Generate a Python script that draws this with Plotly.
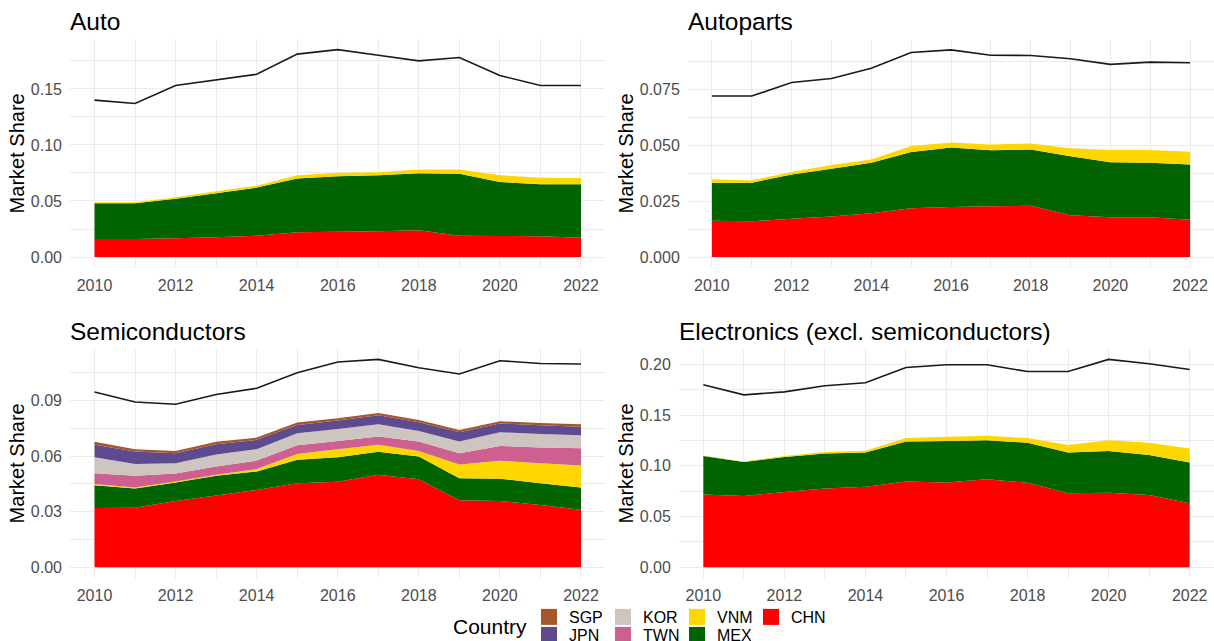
import plotly.graph_objects as go

W, H = 1214, 641

years = list(range(2010, 2023))

# ---------------- data (market shares) ----------------
auto_total = [0.140, 0.137, 0.153, 0.158, 0.163, 0.181, 0.185, 0.180, 0.175, 0.178, 0.162, 0.153, 0.153]
auto_chn = [0.0160, 0.0160, 0.0167, 0.0176, 0.0190, 0.0220, 0.0226, 0.0230, 0.0240, 0.0190, 0.0188, 0.0185, 0.0173]
auto_mex = [0.0320, 0.0320, 0.0353, 0.0394, 0.0430, 0.0480, 0.0494, 0.0500, 0.0507, 0.0554, 0.0482, 0.0465, 0.0477]
auto_vnm = [0.0008, 0.0008, 0.0013, 0.0016, 0.0017, 0.0029, 0.0033, 0.0026, 0.0033, 0.0036, 0.0060, 0.0058, 0.0055]

autoparts_total = [0.0721, 0.0721, 0.0782, 0.0800, 0.0846, 0.0916, 0.0928, 0.0904, 0.0903, 0.0888, 0.0863, 0.0873, 0.0870]
autoparts_chn = [0.0163, 0.0160, 0.0172, 0.0182, 0.0196, 0.0219, 0.0224, 0.0227, 0.0230, 0.0187, 0.0178, 0.0178, 0.0167]
autoparts_mex = [0.0170, 0.0173, 0.0198, 0.0214, 0.0226, 0.0251, 0.0267, 0.0251, 0.0252, 0.0265, 0.0247, 0.0244, 0.0248]
autoparts_vnm = [0.0015, 0.0010, 0.0011, 0.0016, 0.0015, 0.0027, 0.0022, 0.0026, 0.0027, 0.0035, 0.0054, 0.0057, 0.0057]

semi_total = [0.0946, 0.0892, 0.0880, 0.0933, 0.0966, 0.1050, 0.1108, 0.1122, 0.1077, 0.1043, 0.1115, 0.1100, 0.1097]
semi_chn = [0.0320, 0.0322, 0.0358, 0.0388, 0.0417, 0.0453, 0.0462, 0.0500, 0.0475, 0.0362, 0.0358, 0.0336, 0.0311]
semi_mex = [0.0123, 0.0103, 0.0100, 0.0106, 0.0100, 0.0127, 0.0132, 0.0123, 0.0123, 0.0119, 0.0120, 0.0118, 0.0120]
semi_vnm = [0.0006, 0.0006, 0.0005, 0.0005, 0.0013, 0.0032, 0.0043, 0.0039, 0.0030, 0.0074, 0.0097, 0.0108, 0.0118]
semi_twn = [0.0059, 0.0063, 0.0043, 0.0045, 0.0046, 0.0047, 0.0045, 0.0044, 0.0051, 0.0061, 0.0080, 0.0084, 0.0094]
semi_kor = [0.0086, 0.0064, 0.0056, 0.0065, 0.0061, 0.0065, 0.0065, 0.0066, 0.0057, 0.0063, 0.0074, 0.0074, 0.0070]
semi_jpn = [0.0067, 0.0067, 0.0054, 0.0055, 0.0051, 0.0044, 0.0045, 0.0048, 0.0047, 0.0050, 0.0047, 0.0047, 0.0046]
semi_sgp = [0.0016, 0.0012, 0.0012, 0.0013, 0.0012, 0.0013, 0.0012, 0.0013, 0.0012, 0.0012, 0.0012, 0.0012, 0.0013]

elec_total = [0.180, 0.170, 0.173, 0.179, 0.182, 0.197, 0.1997, 0.1997, 0.193, 0.193, 0.205, 0.2007, 0.195]
elec_chn = [0.0719, 0.0703, 0.0742, 0.0778, 0.0795, 0.0847, 0.0837, 0.0867, 0.0834, 0.0729, 0.0736, 0.0713, 0.0631]
elec_mex = [0.0378, 0.0335, 0.0345, 0.0345, 0.0338, 0.0394, 0.0408, 0.0387, 0.0394, 0.0404, 0.0410, 0.0394, 0.0403]
elec_vnm = [0.0003, 0.0006, 0.0010, 0.0013, 0.0016, 0.0033, 0.0042, 0.0043, 0.0046, 0.0072, 0.0108, 0.0121, 0.0138]

panel_titles = ["Auto", "Autoparts", "Semiconductors", "Electronics (excl. semiconductors)"]
legend_rows = [["SGP", "KOR", "VNM", "CHN"], ["JPN", "TWN", "MEX"]]
ytick_steps = [0.05, 0.025, 0.03, 0.05]
ytick_formats = [".2f", ".3f", ".2f", ".2f"]

# ---------------- styles ----------------
country_colors = {
    "SGP": "#A65628",
    "JPN": "#5E4A8E",
    "KOR": "#CDC5BF",
    "TWN": "#CD6090",
    "VNM": "#FFD700",
    "MEX": "#006400",
    "CHN": "#FF0000",
}
FONT = "Arial, Liberation Sans, sans-serif"
TICK_COLOR = "#4D4D4D"
GRID = "#EBEBEB"

# stacking order: bottom -> top
panels = [
    (auto_total, [("CHN", auto_chn), ("MEX", auto_mex), ("VNM", auto_vnm)]),
    (autoparts_total, [("CHN", autoparts_chn), ("MEX", autoparts_mex), ("VNM", autoparts_vnm)]),
    (semi_total, [("CHN", semi_chn), ("MEX", semi_mex), ("VNM", semi_vnm), ("TWN", semi_twn),
                  ("KOR", semi_kor), ("JPN", semi_jpn), ("SGP", semi_sgp)]),
    (elec_total, [("CHN", elec_chn), ("MEX", elec_mex), ("VNM", elec_vnm)]),
]

# panel boxes in pixels: (left, right, top, bottom)
boxes = [
    (70.2, 605.3, 39.3, 267.4),
    (688.0, 1214.0, 39.5, 267.4),
    (70.2, 605.3, 349.0, 577.7),
    (679.0, 1214.0, 349.0, 577.7),
]


def fx(p):
    return p / W


def fy(p):
    return 1 - p / H


fig = go.Figure()
layout = dict(
    width=W, height=H,
    margin=dict(l=0, r=0, t=0, b=0, autoexpand=False),
    paper_bgcolor="white", plot_bgcolor="white",
    font=dict(family=FONT, color="black"),
    showlegend=True,
    annotations=[],
)

for i, ((total, stacks), (l, r, t, b)) in enumerate(zip(panels, boxes)):
    n = "" if i == 0 else str(i + 1)
    xa, ya = "x" + n, "y" + n
    for cname, vals in stacks:
        fig.add_trace(go.Scatter(
            x=years, y=vals, name=cname, mode="none", stackgroup="s" + str(i),
            fillcolor=country_colors[cname], showlegend=False,
            xaxis=xa, yaxis=ya, hoverinfo="x+y+name",
        ))
    fig.add_trace(go.Scatter(
        x=years, y=total, name="Total", mode="lines",
        line=dict(color="#1a1a1a", width=1.6), showlegend=False,
        xaxis=xa, yaxis=ya,
    ))
    m = max(total)
    layout["xaxis" + n] = dict(
        domain=[fx(l), fx(r)], anchor=ya, range=[2009.4, 2022.6], automargin=False,
        tickmode="linear", tick0=2010, dtick=2,
        showgrid=True, gridcolor=GRID, gridwidth=1.1, zeroline=False, showline=False,
        ticks="outside", ticklen=3, tickcolor="rgba(0,0,0,0)",
        tickfont=dict(size=16, color=TICK_COLOR, family=FONT),
        minor=dict(dtick=1, tick0=2010, showgrid=True, gridcolor=GRID, gridwidth=0.6),
    )
    layout["yaxis" + n] = dict(
        domain=[fy(b), fy(t)], anchor=xa, range=[-0.05 * m, 1.05 * m], automargin=False,
        tickmode="linear", tick0=0, dtick=ytick_steps[i], tickformat=ytick_formats[i],
        showgrid=True, gridcolor=GRID, gridwidth=1.1, zeroline=False, showline=False,
        ticks="outside", ticklen=4, tickcolor="rgba(0,0,0,0)",
        tickfont=dict(size=16, color=TICK_COLOR, family=FONT),
        minor=dict(dtick=ytick_steps[i] / 2, tick0=0, showgrid=True, gridcolor=GRID, gridwidth=0.6),
        title=dict(text="Market Share", font=dict(size=20, color="black", family=FONT), standoff=0),
    )
    layout["annotations"].append(dict(
        text=panel_titles[i], xref="paper", yref="paper",
        x=fx(l - 2), y=fy(t - 18), xanchor="left", yanchor="middle", showarrow=False,
        font=dict(size=24.5, color="black", family=FONT),
    ))

# legend: two horizontal rows with fixed entry widths (columns aligned like ggplot)
row_tops_px = [600, 618]
for j, (row, ty) in enumerate(zip(legend_rows, row_tops_px)):
    lname = "legend" if j == 0 else "legend" + str(j + 1)
    for cname in row:
        fig.add_trace(go.Scatter(
            x=[None], y=[None], mode="markers", name=cname,
            marker=dict(symbol="square", size=16, color=country_colors[cname]),
            legend=lname, showlegend=True, hoverinfo="skip",
        ))
    layout[lname] = dict(
        x=fx(529), y=fy(ty), xanchor="left", yanchor="top", orientation="h",
        traceorder="normal", entrywidth=29, entrywidthmode="pixels",
        font=dict(size=16, color="black", family=FONT), bgcolor="rgba(0,0,0,0)",
        itemwidth=30, tracegroupgap=0,
    )

layout["annotations"].append(dict(
    text="Country", xref="paper", yref="paper", x=fx(490.5), y=fy(626),
    xanchor="center", yanchor="middle", showarrow=False,
    font=dict(size=21, color="black", family=FONT),
))

fig.update_layout(**layout)
fig.write_html(
    "out.html",
    config={"displayModeBar": False},
    post_script="document.body.style.margin='0';document.body.style.overflow='hidden';",
)
